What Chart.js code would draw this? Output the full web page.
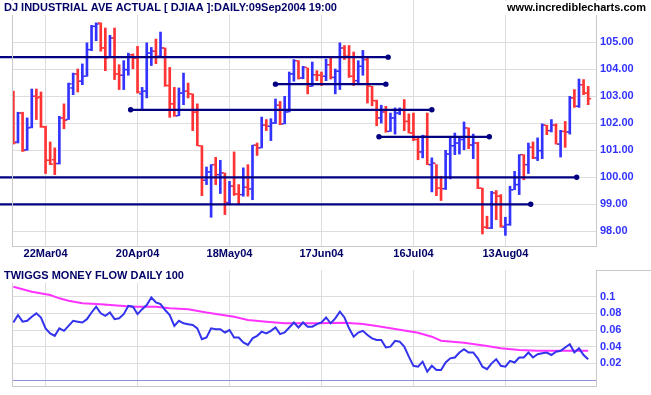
<!DOCTYPE html>
<html>
<head>
<meta charset="utf-8">
<script src="https://cdn.jsdelivr.net/npm/chart.js@4.4.0/dist/chart.umd.min.js"></script>
<style>
  body { margin: 0; background: #fff; }
  #wrap { position: relative; width: 651px; height: 395px; overflow: hidden; }
  canvas { position: absolute; left: 0; }
  #price { top: 0; }
  #flow { top: 262px; }
</style>
</head>
<body>
<div id="wrap">
  <canvas id="price" width="651" height="262"></canvas>
  <canvas id="flow" width="651" height="133"></canvas>
</div>
<script>
// trading days 11Mar04 .. 09Sep04, one bar per day (index 0..125)
const tickIdx = [7, 27, 47, 67, 87, 107];
const tickLabels = ['22Mar04', '20Apr04', '18May04', '17Jun04', '16Jul04', '13Aug04'];
const priceTicks = [98, 99, 100, 101, 102, 103, 104, 105];
const flowTicks = [0, 0.02, 0.04, 0.06, 0.08, 0.1];

const open = [102.90,101.31,102.38,101.02,101.85,103.00,102.98,101.86,100.63,100.65,
  100.51,102.20,102.14,103.31,103.83,103.56,103.74,104.73,105.59,105.72,
  104.79,104.44,105.16,103.83,103.78,103.99,104.54,104.42,103.09,103.19,
  104.60,104.67,104.48,104.79,103.40,102.72,102.28,103.12,103.19,103.09,
  102.41,101.17,99.89,100.20,100.47,100.10,100.16,99.05,99.67,99.38,
  99.36,99.63,99.57,101.19,101.09,101.93,101.89,102.01,102.67,101.98,
  102.42,103.83,104.32,103.68,104.07,103.37,103.80,103.78,103.74,104.17,
  103.70,103.93,104.79,104.48,103.74,103.58,104.11,104.36,103.37,102.84,
  102.20,102.42,101.70,102.20,102.38,102.51,102.07,101.64,101.40,100.94,
  101.52,100.47,100.51,99.60,99.58,100.86,101.17,101.27,101.40,101.83,
  101.19,101.27,99.60,98.15,98.12,99.42,99.30,98.15,98.25,99.54,
  99.73,100.84,100.47,101.11,100.72,100.99,101.93,101.73,101.93,101.23,
  101.70,101.68,102.94,102.63,103.43,103.12];
const high = [103.19,102.41,102.41,102.20,103.27,103.27,103.16,101.89,101.31,101.09,
  102.26,102.72,103.49,103.86,104.01,104.20,104.98,105.63,105.72,105.72,
  105.53,105.26,105.53,104.17,104.32,104.60,104.57,104.85,103.33,104.98,
  104.81,105.12,105.38,104.79,104.07,103.33,103.31,103.86,103.49,103.09,
  102.72,101.17,100.38,100.47,100.74,100.63,100.16,99.85,100.94,99.73,
  100.35,100.47,101.19,101.27,102.23,102.14,102.17,102.90,102.81,103.00,
  103.90,104.36,104.32,104.11,104.05,104.27,103.95,103.90,104.38,104.44,
  104.01,104.98,104.88,104.88,104.64,104.32,104.70,104.48,103.37,102.86,
  102.67,102.63,102.38,102.57,102.57,102.88,102.35,102.38,101.46,101.56,
  102.38,100.72,100.47,100.04,101.00,101.48,101.64,101.49,102.05,101.83,
  101.60,101.30,99.60,98.56,99.48,99.51,99.36,98.52,99.67,100.22,
  100.84,100.84,101.27,101.31,101.46,101.98,101.93,102.14,101.98,101.74,
  102.07,103.00,103.25,103.64,103.62,103.37];
const low = [101.23,101.27,100.96,101.00,101.83,102.14,101.85,100.14,100.47,100.10,
  100.49,101.80,102.14,103.06,103.16,103.43,103.74,104.69,105.06,104.67,
  103.95,104.44,103.62,103.25,103.25,103.78,104.02,103.12,102.51,102.94,
  104.14,104.21,104.44,103.37,102.22,102.26,102.28,102.69,102.94,101.73,
  101.17,99.32,99.73,98.52,99.73,99.40,98.62,99.02,99.33,99.02,
  99.30,99.30,99.17,100.81,101.09,101.73,101.36,101.99,101.95,101.98,
  102.42,103.56,103.64,103.65,103.09,103.37,103.58,103.40,103.58,103.64,
  103.09,103.25,104.36,103.70,103.40,103.43,103.78,102.75,102.65,101.91,
  102.01,101.67,101.70,101.60,102.32,101.73,101.64,101.36,100.65,100.72,
  100.47,99.46,99.32,99.14,99.55,99.94,100.84,100.86,101.02,101.06,
  100.69,99.58,97.90,98.10,98.10,98.43,98.15,97.85,98.22,99.54,
  99.36,99.91,100.14,100.69,100.62,100.69,101.58,101.68,101.23,100.75,
  101.11,101.60,102.59,102.59,103.06,102.69];
const close = [101.27,102.38,100.99,101.83,103.00,102.94,101.88,100.63,100.49,100.51,
  102.20,102.11,103.46,103.83,103.56,103.74,104.73,105.59,105.68,104.79,
  104.42,105.16,103.83,103.78,103.99,104.54,104.42,103.16,103.19,104.60,
  104.67,104.48,104.79,103.40,102.72,102.28,103.12,103.19,103.09,102.41,
  101.17,99.89,100.20,100.47,100.10,100.16,99.07,99.67,99.38,99.36,
  99.63,99.57,101.19,101.09,101.93,101.89,102.01,102.67,101.98,102.42,
  103.83,104.32,103.68,104.07,103.37,103.80,103.78,103.74,104.17,103.70,
  103.93,104.79,104.48,103.74,103.58,104.11,104.36,103.37,102.84,102.20,
  102.42,101.70,102.20,102.38,102.51,102.07,101.64,101.40,100.94,101.52,
  100.47,100.53,99.60,99.58,100.86,101.17,101.27,101.40,101.83,101.21,
  101.27,99.60,98.15,98.12,99.42,99.30,98.19,98.25,99.54,99.73,
  100.84,100.47,101.11,100.72,100.99,101.93,101.73,101.93,101.23,101.70,
  101.68,102.94,102.63,103.43,103.12,102.91];

// trend lines: level, start bar, end bar
const levelY = [104.45, 103.45, 102.5, 101.5, 100.0, 99.0];
const levelFrom = [-3, 57, 25.5, 79.5, -3, -3];
const levelTo = [81.5, 81, 91, 103.5, 122.5, 112.5];

// Twiggs money flow and its signal
const tmf = [0.069,0.078,0.070,0.071,0.076,0.080,0.075,0.062,0.056,0.053,
  0.062,0.059,0.065,0.071,0.070,0.069,0.073,0.081,0.088,0.080,
  0.077,0.081,0.073,0.074,0.079,0.089,0.088,0.079,0.085,0.090,
  0.099,0.093,0.091,0.084,0.078,0.065,0.071,0.068,0.067,0.066,
  0.062,0.049,0.051,0.062,0.061,0.061,0.057,0.060,0.051,0.051,
  0.045,0.042,0.050,0.053,0.058,0.056,0.059,0.063,0.055,0.057,
  0.063,0.069,0.063,0.069,0.064,0.064,0.067,0.069,0.075,0.068,
  0.074,0.082,0.075,0.062,0.052,0.057,0.059,0.054,0.050,0.048,
  0.048,0.039,0.040,0.047,0.046,0.040,0.028,0.017,0.016,0.022,
  0.010,0.017,0.012,0.012,0.021,0.026,0.027,0.033,0.037,0.033,
  0.033,0.026,0.016,0.013,0.020,0.025,0.017,0.016,0.023,0.021,
  0.027,0.027,0.033,0.027,0.031,0.032,0.033,0.030,0.034,0.035,
  0.039,0.043,0.033,0.038,0.030,0.025];
const sigIdx = [0, 4, 8, 10, 12, 15, 19, 26, 31, 34, 38, 42, 48, 51, 55, 59, 66, 72, 76, 79, 83, 88, 91, 93, 98, 103, 106, 110, 114, 118, 125];
const sigVal = [0.112, 0.106, 0.102, 0.098, 0.095, 0.092, 0.091, 0.088, 0.088, 0.086, 0.085, 0.081, 0.076, 0.072, 0.070, 0.068, 0.068, 0.0688, 0.0672, 0.0648, 0.0612, 0.0568, 0.052, 0.0472, 0.0448, 0.0408, 0.038, 0.036, 0.0352, 0.0352, 0.0352];

const FONT = '"Liberation Sans", Arial, sans-serif';
Chart.defaults.font.family = FONT;
const BLUE = '#3333ff', RED = '#ff3333', NAVY = '#000080', GRID = '#dddddd', EDGE = '#c8c8c8';
const barColor = i => (close[i] >= open[i] ? BLUE : RED);

function dateAxis(labels) {
  return {
    type: 'linear', min: -0.3, max: 126.7, offset: false,
    afterBuildTicks: s => { s.ticks = tickIdx.map(v => ({ value: v })); },
    afterFit: s => { s.height = labels ? 16 : 0; s.paddingLeft = 0; s.paddingRight = 0; },
    grid: { color: GRID, drawTicks: false, offset: false },
    border: { display: true, color: EDGE },
    ticks: {
      display: labels, autoSkip: false, maxRotation: 0, padding: 1,
      color: '#000066', font: { weight: 'bold', size: 11 },
      callback: (v, i) => tickLabels[i]
    }
  };
}

function label(ctx, text, x, y, align, color) {
  ctx.save();
  ctx.font = 'bold 11px ' + FONT;
  ctx.textBaseline = 'middle';
  ctx.textAlign = align;
  const w = ctx.measureText(text).width;
  ctx.fillStyle = '#fff';
  ctx.fillRect(align === 'right' ? x - w - 2 : x - 2, y - 7, w + 4, 14);
  ctx.fillStyle = color;
  ctx.fillText(text, x, y);
  ctx.restore();
}

function leftEdge(chart) {
  const { ctx, chartArea: a } = chart;
  ctx.save();
  ctx.strokeStyle = EDGE;
  ctx.lineWidth = 1;
  ctx.beginPath();
  ctx.moveTo(a.left + 0.5, a.top);
  ctx.lineTo(a.left + 0.5, a.bottom);
  ctx.stroke();
  ctx.restore();
}

const levelSets = levelY.map((y, k) => ({
  type: 'line',
  data: [{ x: levelFrom[k], y: y }, { x: levelTo[k], y: y }],
  borderColor: NAVY, borderWidth: 2.2,
  pointRadius: levelFrom[k] >= 0 ? [2.7, 2.7] : [0, 2.7],
  pointBackgroundColor: NAVY, pointBorderWidth: 0,
  clip: false, order: 0
}));

new Chart(document.getElementById('price'), {
  type: 'bar',
  data: {
    datasets: [
      {
        type: 'bar',
        data: high.map((h, i) => ({ x: i, y: [low[i], h] })),
        barThickness: 2, borderWidth: 0, grouped: false,
        backgroundColor: c => barColor(c.dataIndex || 0),
        order: 2
      },
      {
        type: 'scatter',
        data: open.map((o, i) => ({ x: i - 0.42, y: o })),
        pointStyle: 'line', pointRadius: 1.1, pointBorderWidth: 1.4,
        pointBorderColor: c => barColor(c.dataIndex || 0),
        order: 1
      },
      {
        type: 'scatter',
        data: close.map((v, i) => ({ x: i + 0.42, y: v })),
        pointStyle: 'line', pointRadius: 1.1, pointBorderWidth: 1.4,
        pointBorderColor: c => barColor(c.dataIndex || 0),
        order: 1
      },
      ...levelSets
    ]
  },
  options: {
    responsive: false, animation: false,
    layout: { autoPadding: false, padding: { left: 12, top: 0, right: 0, bottom: 0 } },
    plugins: { legend: { display: false }, tooltip: { enabled: false } },
    scales: {
      x: dateAxis(true),
      y: {
        position: 'right', min: 97.456, max: 106.567,
        afterBuildTicks: s => { s.ticks = priceTicks.map(v => ({ value: v })); },
        afterFit: s => { s.width = 55; s.paddingTop = 0; s.paddingBottom = 0; },
        grid: { color: GRID, drawTicks: false },
        border: { display: true, color: EDGE },
        ticks: { padding: 4, color: BLUE, font: { weight: 'bold', size: 11 }, callback: v => v.toFixed(2) }
      }
    }
  },
  plugins: [{
    id: 'priceDecor',
    afterDraw(chart) {
      leftEdge(chart);
      label(chart.ctx, 'DJ INDUSTRIAL AVE ACTUAL [ DJIAA ]:DAILY:09Sep2004 19:00', 4, 8, 'left', '#000066');
      label(chart.ctx, 'www.incrediblecharts.com', 646, 8, 'right', '#000000');
    }
  }]
});

new Chart(document.getElementById('flow'), {
  type: 'line',
  data: {
    datasets: [
      {
        data: tmf.map((v, i) => ({ x: i, y: v })),
        borderColor: '#3333ee', borderWidth: 2, pointRadius: 0, tension: 0, order: 0
      },
      {
        data: sigIdx.map((x, k) => ({ x: x, y: sigVal[k] })),
        borderColor: '#ff33ff', borderWidth: 2, pointRadius: 0, tension: 0, order: 1
      }
    ]
  },
  options: {
    responsive: false, animation: false,
    layout: { autoPadding: false, padding: { left: 12, top: 8, right: 0, bottom: 9 } },
    plugins: { legend: { display: false }, tooltip: { enabled: false } },
    scales: {
      x: dateAxis(false),
      y: {
        position: 'right', min: -0.0072, max: 0.132,
        afterBuildTicks: s => { s.ticks = flowTicks.map(v => ({ value: v })); },
        afterFit: s => { s.width = 55; s.paddingTop = 0; s.paddingBottom = 0; },
        grid: { color: c => (c.tick && c.tick.value === 0 ? '#8c8cdc' : GRID), drawTicks: false },
        border: { display: true, color: EDGE },
        ticks: { padding: 4, color: BLUE, font: { weight: 'bold', size: 11 }, callback: v => (v === 0 ? '' : String(v)) }
      }
    }
  },
  plugins: [{
    id: 'flowDecor',
    afterDraw(chart) {
      const { ctx, chartArea: a, width } = chart;
      leftEdge(chart);
      ctx.save();
      ctx.strokeStyle = EDGE;
      ctx.beginPath();
      ctx.moveTo(a.right, a.top + 0.5);
      ctx.lineTo(width, a.top + 0.5);
      ctx.stroke();
      ctx.restore();
      label(ctx, 'TWIGGS MONEY FLOW DAILY 100', 4, 14, 'left', '#000066');
    }
  }]
});
</script>
</body>
</html>
